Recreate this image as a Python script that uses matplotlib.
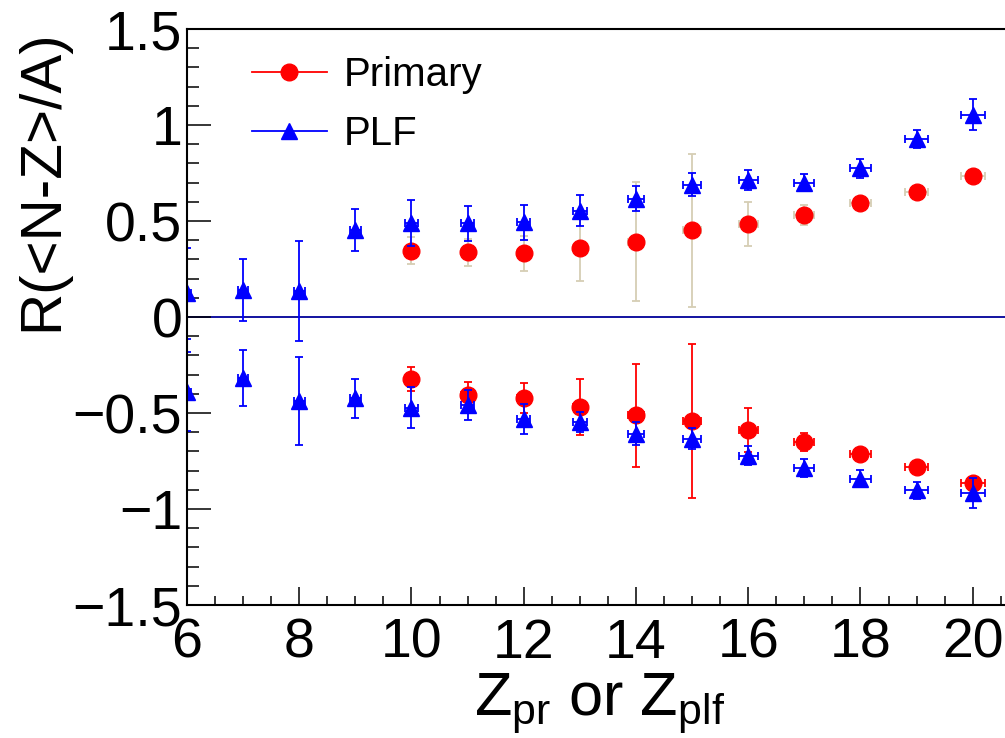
import matplotlib
matplotlib.use("Agg")
import matplotlib.pyplot as plt
from matplotlib.lines import Line2D
from matplotlib.ticker import MultipleLocator
import numpy as np

plt.rcParams['font.family'] = ['Liberation Sans', 'DejaVu Sans']
plt.rcParams['mathtext.fontset'] = 'custom'
plt.rcParams['mathtext.rm'] = 'Liberation Sans'
plt.rcParams['mathtext.it'] = 'Liberation Sans:italic'
plt.rcParams['mathtext.bf'] = 'Liberation Sans:bold'

# ---- data ----
z_pr = [10, 11, 12, 13, 14, 15, 16, 17, 18, 19, 20]
pr_up = [0.345, 0.337, 0.332, 0.359, 0.392, 0.451, 0.486, 0.531, 0.594, 0.653, 0.736]
pr_up_err = [0.07, 0.07, 0.09, 0.17, 0.31, 0.40, 0.115, 0.05, 0.01, 0.01, 0.01]
pr_dn = [-0.321, -0.406, -0.422, -0.469, -0.512, -0.542, -0.589, -0.653, -0.715, -0.781, -0.865]
pr_dn_err = [0.063, 0.065, 0.08, 0.147, 0.267, 0.40, 0.115, 0.047, 0.01, 0.01, 0.01]
pr_xerr = [0.11, 0.12, 0.12, 0.13, 0.15, 0.16, 0.17, 0.18, 0.19, 0.20, 0.21]

z_plf = [6, 7, 8, 9, 10, 11, 12, 13, 14, 15, 16, 17, 18, 19, 20]
plf_up = [0.123, 0.141, 0.137, 0.453, 0.491, 0.488, 0.493, 0.554, 0.615, 0.688, 0.714, 0.700, 0.774, 0.925, 1.054]
plf_up_err = [0.235, 0.16, 0.26, 0.11, 0.12, 0.09, 0.09, 0.08, 0.065, 0.06, 0.05, 0.045, 0.05, 0.047, 0.08]
plf_dn = [-0.389, -0.319, -0.436, -0.424, -0.472, -0.458, -0.531, -0.547, -0.608, -0.635, -0.722, -0.786, -0.842, -0.903, -0.917]
plf_dn_err = [0.207, 0.145, 0.23, 0.10, 0.105, 0.08, 0.08, 0.05, 0.06, 0.055, 0.05, 0.045, 0.045, 0.045, 0.08]
plf_xerr = [0.08, 0.09, 0.10, 0.10, 0.11, 0.12, 0.12, 0.13, 0.15, 0.16, 0.17, 0.18, 0.19, 0.20, 0.21]

legend_labels = ["Primary", "PLF"]
xlabel = r"$\mathrm{Z_{pr}}$ or $\mathrm{Z_{plf}}$"
ylabel = "R(<N-Z>/A)"

RED = '#ff0000'
BLUE = '#0000ff'
TAN = '#d6ceb4'
NAVY = '#000099'

W, H = 1005, 738
fig = plt.figure(figsize=(W / 100, H / 100), dpi=100)
ax = fig.add_axes([187 / W, 1 - 605 / H, (1006.4 - 187) / W, (605 - 29) / H])

ax.set_xlim(6, 20.6)
ax.set_ylim(-1.5, 1.5)

ax.axhline(0, color=NAVY, lw=1.3, zorder=1)

ekw = dict(fmt='o', ms=12, capsize=2.6, elinewidth=1.3, capthick=1.3)
ax.errorbar(z_pr, pr_up, yerr=pr_up_err, xerr=pr_xerr, color=RED, ecolor=TAN, zorder=2, **ekw)
ax.errorbar(z_pr, pr_dn, yerr=pr_dn_err, xerr=pr_xerr, color=RED, ecolor=RED, zorder=2, **ekw)

tkw = dict(fmt='^', ms=11, capsize=2.6, elinewidth=1.3, capthick=1.3)
ax.errorbar(z_plf, plf_up, yerr=plf_up_err, xerr=plf_xerr, color=BLUE, ecolor=BLUE, zorder=3, **tkw)
ax.errorbar(z_plf, plf_dn, yerr=plf_dn_err, xerr=plf_xerr, color=BLUE, ecolor=BLUE, zorder=3, **tkw)

# axes styling (ROOT look)
for s in ['left', 'bottom', 'top']:
    ax.spines[s].set_linewidth(1.5)
    ax.spines[s].set_zorder(5)
ax.spines['right'].set_visible(False)
ax.xaxis.set_major_locator(MultipleLocator(2))
ax.xaxis.set_minor_locator(MultipleLocator(0.5))
ax.yaxis.set_major_locator(MultipleLocator(0.5))
ax.yaxis.set_minor_locator(MultipleLocator(0.1))
ax.tick_params(axis='x', which='major', direction='in', length=13, width=1.1, pad=9, labelsize=40, top=False)
ax.tick_params(axis='x', which='minor', direction='in', length=6.5, width=1.1, top=False)
ax.tick_params(axis='y', which='major', direction='in', length=17, width=1.1, pad=3.5, labelsize=40, right=False)
ax.tick_params(axis='y', which='minor', direction='in', length=8.6, width=1.1, right=False)

def fmt(v, pos):
    s = ('%g' % v)
    return s.replace('-', '\u2212')
ax.xaxis.set_major_formatter(plt.FuncFormatter(fmt))
ax.yaxis.set_major_formatter(plt.FuncFormatter(fmt))

fig.text(600 / W, 1 - 715 / H, xlabel, fontsize=44, ha='center', va='baseline')
fig.text(42 / W, 1 - 29 / H, ylabel, fontsize=42, ha='center', va='top', rotation=90)

handles = [Line2D([], [], color=RED, marker='o', ms=12, lw=1.3),
           Line2D([], [], color=BLUE, marker='^', ms=11, lw=1.3)]
leg = ax.legend(handles, legend_labels, loc='upper left', bbox_to_anchor=((252 - 187) / 818.4, (605 - 56) / 576),
                frameon=False, fontsize=29, handlelength=1.85, handletextpad=0.42,
                labelspacing=0.52, borderpad=0, borderaxespad=0, numpoints=1)

fig.savefig('out.png', dpi=100)
